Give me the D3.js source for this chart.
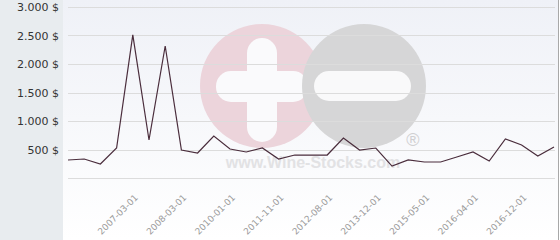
<!DOCTYPE html>
<html>
<head>
<meta charset="utf-8">
<script src="https://cdn.jsdelivr.net/npm/d3@7"></script>
<style>
body { margin: 0; }
svg { display: block; font-family: "DejaVu Sans", sans-serif; }
</style>
</head>
<body>
<div id="chart"></div>
<script>
var w = 560;
var h = 240;

var dates = ["2005-06-01", "2005-11-01", "2006-05-01", "2006-10-01", "2007-03-01",
	"2007-07-01", "2007-11-01", "2008-03-01", "2008-11-01", "2009-06-01",
	"2010-01-01", "2010-09-01", "2011-04-01", "2011-11-01", "2012-02-01",
	"2012-05-01", "2012-08-01", "2012-12-01", "2013-06-01", "2013-12-01",
	"2014-06-01", "2014-11-01", "2015-05-01", "2015-09-01", "2016-01-01",
	"2016-04-01", "2016-07-01", "2016-09-01", "2016-12-01", "2017-03-01",
	"2017-06-01"];
var prices = [316, 333, 246, 526, 2510, 667, 2316, 491, 439, 737,
	509, 456, 526, 333, 403, 403, 403, 702, 491, 526,
	210, 316, 281, 281, 368, 456, 298, 684, 579, 386,
	544];
var yTicks = [500, 1000, 1500, 2000, 2500, 3000];
var gridTicks = [0, 500, 1000, 1500, 2000, 2500, 3000];

var svg = d3.select("#chart")
	.append("svg")
	.attr("width", w)
	.attr("height", h);

var defs = svg.append("defs");
var grad = defs.append("linearGradient")
	.attr("id", "bg")
	.attr("x1", 0).attr("y1", 0)
	.attr("x2", 0).attr("y2", 1);
grad.append("stop").attr("offset", "0%").attr("stop-color", "#eff1f7");
grad.append("stop").attr("offset", "100%").attr("stop-color", "#ffffff");

// left panel and plot background
svg.append("rect")
	.attr("x", 0).attr("y", 0)
	.attr("width", 63).attr("height", h)
	.attr("fill", "#e8ecef");
svg.append("rect")
	.attr("x", 63).attr("y", 0)
	.attr("width", 495).attr("height", h)
	.attr("fill", "url(#bg)");
svg.append("line")
	.attr("x1", 558.5).attr("x2", 558.5)
	.attr("y1", 0).attr("y2", h)
	.attr("stroke", "#a8a8a8");

var xScale = d3.scalePoint()
	.domain(dates)
	.range([68, 554]);

var yScale = d3.scaleLinear()
	.domain([0, 3000])
	.range([178, 7]);

// watermark
var wm = svg.append("g");
wm.append("circle").attr("cx", 262).attr("cy", 86).attr("r", 62).attr("fill", "#ecd4db");
wm.append("rect").attr("x", 216).attr("y", 71).attr("width", 92).attr("height", 31)
	.attr("rx", 15).attr("fill", "#fafafc");
wm.append("rect").attr("x", 247).attr("y", 38).attr("width", 30).attr("height", 104)
	.attr("rx", 15).attr("fill", "#fafafc");
wm.append("circle").attr("cx", 364).attr("cy", 86).attr("r", 62).attr("fill", "#d6d6d7");
wm.append("rect").attr("x", 314).attr("y", 71).attr("width", 97).attr("height", 30)
	.attr("rx", 15).attr("fill", "#f9f9fa");
wm.append("text")
	.attr("x", 313).attr("y", 168)
	.attr("text-anchor", "middle")
	.style("font-family", "Liberation Sans, Arial, sans-serif")
	.style("font-weight", "bold")
	.style("font-size", "16px")
	.attr("fill", "#e2e2e4")
	.text("www.Wine-Stocks.com");
wm.append("text")
	.attr("x", 413).attr("y", 146)
	.attr("text-anchor", "middle")
	.style("font-family", "Liberation Sans, Arial, sans-serif")
	.style("font-size", "18px")
	.attr("fill", "#d0d0d2")
	.text("®");

// grid
svg.selectAll(".grid")
	.data(gridTicks)
	.enter()
	.append("line")
	.attr("class", "grid")
	.attr("x1", 68).attr("x2", 555)
	.attr("y1", function(d) { return Math.round(yScale(d)) + 0.5; })
	.attr("y2", function(d) { return Math.round(yScale(d)) + 0.5; })
	.attr("stroke", "#dcdcdc");

var yAxis = d3.axisLeft(yScale)
	.tickValues(yTicks)
	.tickSize(0)
	.tickPadding(0)
	.tickFormat(function(d) { return d3.format(",")(d).replace(",", ".") + " $"; });

svg.append("g")
	.attr("class", "axisY")
	.attr("transform", "translate(59,0)")
	.call(yAxis)
	.call(function(g) { g.select(".domain").remove(); })
	.selectAll("text")
	.style("font-family", "DejaVu Sans, sans-serif")
	.style("font-size", "11px")
	.attr("fill", "#333");

var xAxis = d3.axisBottom(xScale)
	.tickValues(dates.filter(function(d, i) { return i % 3 === 1 && i > 3; }))
	.tickSize(0);

svg.append("g")
	.attr("class", "axisX")
	.attr("transform", "translate(3,196)")
	.call(xAxis)
	.call(function(g) { g.select(".domain").remove(); })
	.selectAll("text")
	.style("font-family", "DejaVu Sans, sans-serif")
	.style("font-size", "9px")
	.attr("fill", "#9a9a9a")
	.attr("text-anchor", "end")
	.attr("dy", "0.35em")
	.attr("y", 0)
	.attr("transform", "rotate(-45)");

var line = d3.line()
	.x(function(d, i) { return xScale(dates[i]); })
	.y(function(d) { return yScale(d); });

svg.append("path")
	.datum(prices)
	.attr("d", line)
	.attr("fill", "none")
	.attr("stroke", "#4a2d3c")
	.attr("stroke-width", 1.2);
</script>
</body>
</html>
